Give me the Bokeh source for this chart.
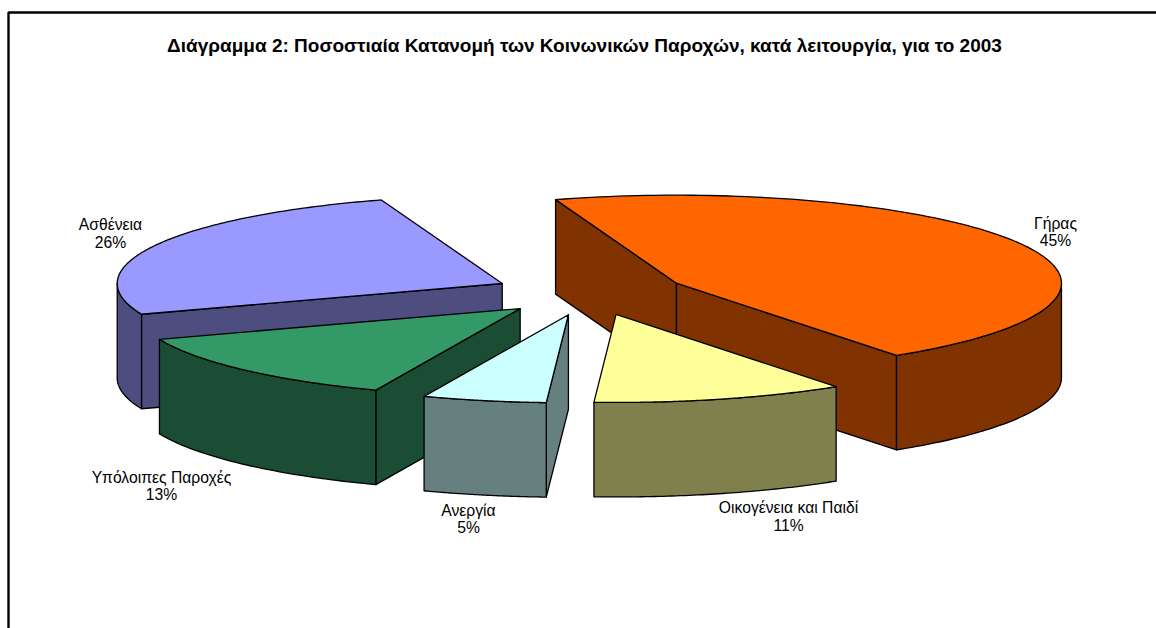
import numpy as np
from bokeh.plotting import figure
from bokeh.embed import file_html
from bokeh.resources import INLINE
from bokeh.core.properties import value

TITLE = "Διάγραμμα 2: Ποσοστιαία Κατανομή των Κοινωνικών Παροχών, κατά λειτουργία, για το 2003"
categories = ["Γήρας", "Οικογένεια και Παιδί", "Ανεργία", "Υπόλοιπες Παροχές", "Ασθένεια"]
values = [45.4, 10.6, 5.2, 13.2, 25.6]
top_colors = ["#FF6600", "#FFFF99", "#CCFFFF", "#339966", "#9999FF"]
side_colors = ["#803300", "#80804D", "#668080", "#1A4D33", "#4D4D80"]

# projection of the tilted pie into page pixels
CX, CY, RX, RY, DEPTH, EXPLODE, START = 589.2, 292.6, 385.0, 88.0, 94.5, 0.252, -18.3
LABEL_XY = [(1055, 222.5), (788, 507), (468, 509.5), (161, 476.5), (110, 224)]
LABEL_GAP = 17.5
DRAW_ORDER = [4, 0, 3, 2, 1]

p = figure(width=1156, height=628, x_range=(0, 1156), y_range=(628, 0),
           output_backend="svg", toolbar_location=None, min_border=0,
           x_axis_type=None, y_axis_type=None, outline_line_color=None)
p.grid.visible = False

edges = START + np.concatenate([[0], np.cumsum(values)]) * 3.6


def rim(ax, ay, t):
    r = np.radians(t)
    return ax + RX * np.sin(r), ay - RY * np.cos(r)


def face(xs, ys, color):
    p.patch(list(xs), list(ys), fill_color=color, line_color="black", line_width=1.3, line_join="round")


for i in DRAW_ORDER:
    t0, t1 = edges[i], edges[i + 1]
    mid = np.radians((t0 + t1) / 2)
    ax = CX + RX * EXPLODE * np.sin(mid)
    ay = CY - RY * EXPLODE * np.cos(mid)
    # radial walls turned to the viewer
    for t, visible in ((t0, np.sin(np.radians(t0)) < 0), (t1, np.sin(np.radians(t1)) > 0)):
        if visible:
            ex, ey = rim(ax, ay, t)
            face([ax, ex, ex, ax], [ay, ey, ey + DEPTH, ay + DEPTH], side_colors[i])
    # outer curved wall
    a, b = max(t0, 90), min(t1, 270)
    if a < b:
        ts = np.linspace(a, b, 60)
        rx, ry = rim(ax, ay, ts)
        face(np.r_[rx, rx[::-1]], np.r_[ry, ry[::-1] + DEPTH], side_colors[i])
    # top
    ts = np.linspace(t0, t1, 120)
    rx, ry = rim(ax, ay, ts)
    face(np.r_[ax, rx], np.r_[ay, ry], top_colors[i])

font = value("Liberation Sans")
for name, v, (lx, ly) in zip(categories, values, LABEL_XY):
    p.text([lx], [ly], text=[name], text_font=font, text_font_size="15.7px", text_color="#000000",
           text_align="center", text_baseline="middle")
    p.text([lx], [ly + LABEL_GAP], text=[f"{round(v)}%"], text_font=font, text_font_size="15.7px",
           text_color="#000000", text_align="center", text_baseline="middle")

p.text([584], [45], text=[TITLE], text_font=font, text_font_size="19px", text_font_style="bold",
       text_color="#000000", text_align="center", text_baseline="middle")

# frame of the chart sheet, cropped by the page at the right and the bottom
p.line([8, 8, 1156], [628, 12, 12], line_color="black", line_width=2.4)

open("out.html", "w").write(file_html(p, INLINE))
